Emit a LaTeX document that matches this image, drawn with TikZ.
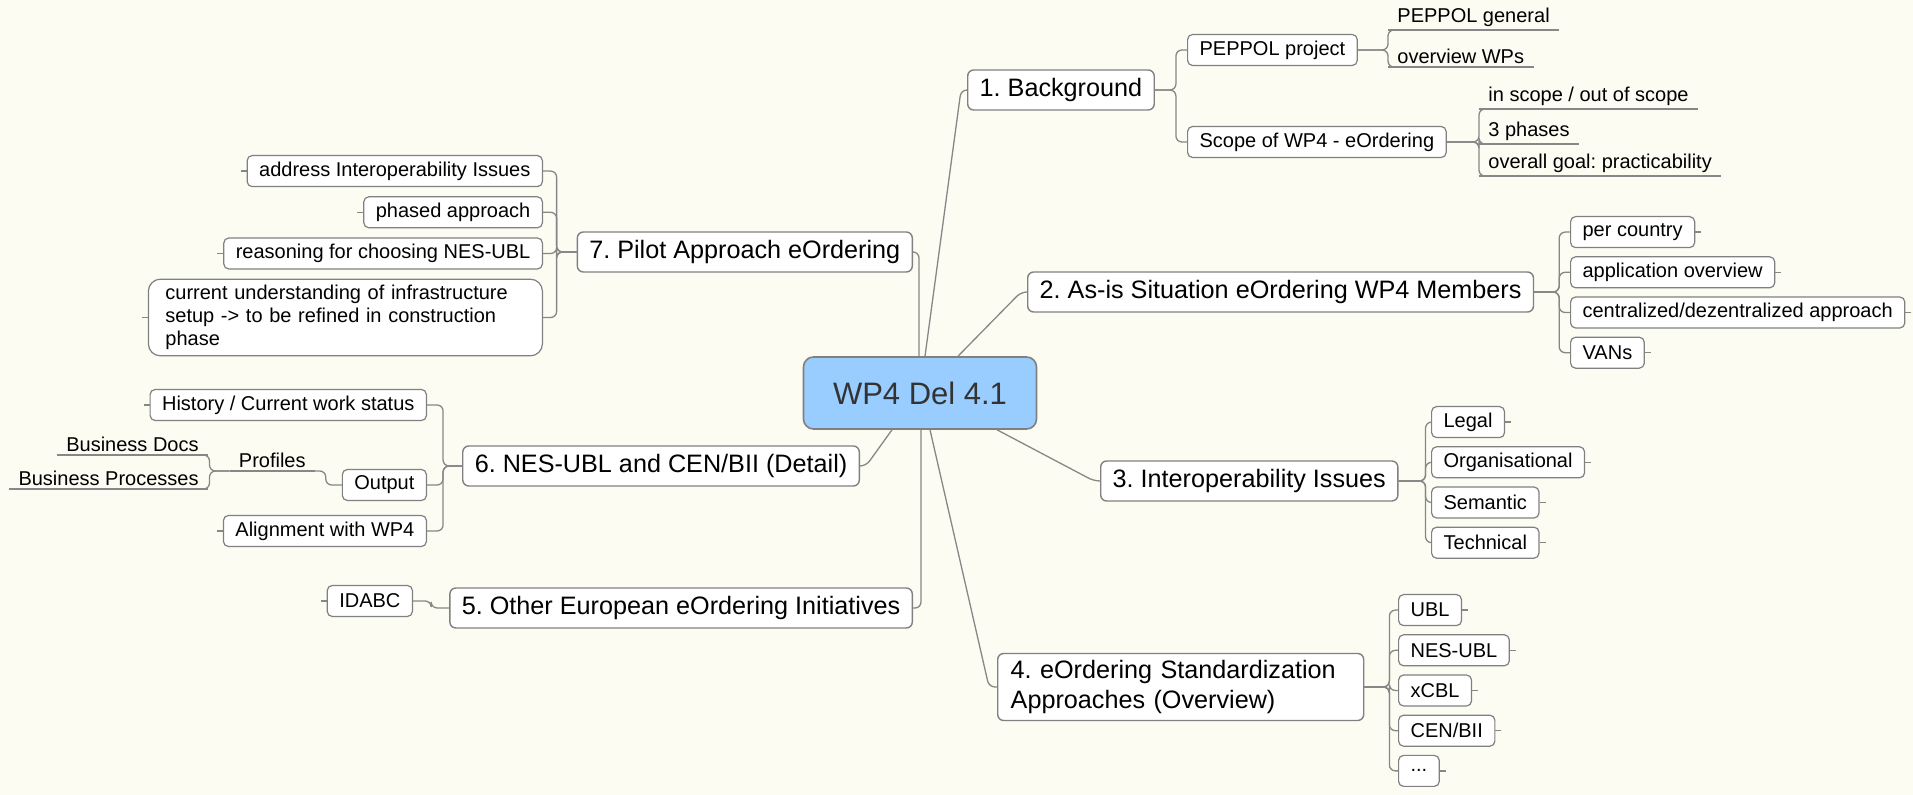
\documentclass[tikz,border=0pt]{standalone}
\usepackage{fontspec}
\setmainfont{Liberation Sans}
\usetikzlibrary{positioning}

\definecolor{bgcream}{RGB}{252,252,243}
\definecolor{rootblue}{RGB}{153,204,255}
\definecolor{boxgray}{RGB}{128,128,128}
\definecolor{linegray}{RGB}{135,135,135}

\frenchspacing

\begin{document}
\begin{tikzpicture}[x=0.5pt, y=-0.5pt,
root/.style={rectangle, rounded corners=5pt, draw=boxgray, fill=rootblue, line width=0.8pt,
    font=\fontsize{15.5}{18}\selectfont, text=black!80, minimum width=116.5pt, minimum height=36pt},
branch/.style={rectangle, rounded corners=3pt, draw=boxgray, fill=white, line width=0.7pt,
    font=\fontsize{12.6}{15}\selectfont, minimum height=20pt, inner xsep=6pt},
leaf/.style={rectangle, rounded corners=2.5pt, draw=boxgray, fill=white, line width=0.6pt,
    font=\fontsize{10}{11.5}\selectfont, minimum height=15.5pt, inner xsep=6pt, inner ysep=1pt},
leaf-right/.style={leaf, anchor=north west,
    append after command={(\tikzlastnode.east) edge [line] ([xshift=3pt]\tikzlastnode.east)}},
leaf-left/.style={leaf, anchor=north east,
    append after command={(\tikzlastnode.west) edge [line] ([xshift=-3pt]\tikzlastnode.west)}},
next-right/.style={below=4pt of #1.south west, anchor=north west},
next-left/.style={below=4.5pt of #1.south east, anchor=north east},
topic/.style={font=\fontsize{10}{11.5}\selectfont, inner xsep=4.5pt, inner ysep=1.5pt,
    append after command={(\tikzlastnode.south west) edge [line] (\tikzlastnode.south east)}},
line/.style={draw=linegray, line width=0.65pt, rounded corners=3pt}
]

\fill [bgcream] (0,0) rectangle (1913,795);
\useasboundingbox (0,0) rectangle (1913,795);

\node [root] (wp4) at (920,393) {WP4 Del 4.1};

\node [branch, anchor=west] (b1) at (967,90) {1. Background};
\node [branch, anchor=west] (b2) at (1027,292) {2. As-is Situation eOrdering WP4 Members};
\node [branch, anchor=west] (b3) at (1100,481) {3. Interoperability Issues};
\node [branch, anchor=west, align=left, text width=170pt, inner xsep=6.5pt, minimum height=33.5pt]
    (b4) at (997,687) {4. eOrdering Standardization\\Approaches (Overview)};
\node [branch, anchor=east] (b5) at (913,608) {5. Other European eOrdering Initiatives};
\node [branch, anchor=east] (b6) at (860,466) {6. NES-UBL and CEN/BII (Detail)};
\node [branch, anchor=east] (b7) at (913,252) {7. Pilot Approach eOrdering};

% 1
\node [leaf, anchor=west] (b1-peppol) at (1187,50) {PEPPOL project};
\node [leaf, anchor=west] (b1-scope) at (1187,142) {Scope of WP4 - eOrdering};
\node [topic, anchor=south west] (b1-general) at (1388,30) {PEPPOL general};
\node [topic, anchor=south west] (b1-wps) at (1388,67) {overview WPs};
\node [topic, anchor=south west] (b1-inscope) at (1479,109) {in scope / out of scope};
\node [topic, anchor=south west] (b1-phases) at (1479,144) {3 phases};
\node [topic, anchor=south west] (b1-goal) at (1479,176) {overall goal: practicability};

% 2
\node [leaf-right] (b2-country) at (1570,216) {per country};
\node [leaf-right, next-right=b2-country] (b2-apps) {application overview};
\node [leaf-right, next-right=b2-apps] (b2-central) {centralized/dezentralized approach};
\node [leaf-right, next-right=b2-central] (b2-vans) {VANs};

% 3
\node [leaf-right] (b3-legal) at (1431,406) {Legal};
\node [leaf-right, next-right=b3-legal] (b3-org) {Organisational};
\node [leaf-right, next-right=b3-org] (b3-sem) {Semantic};
\node [leaf-right, next-right=b3-sem] (b3-tech) {Technical};

% 4
\node [leaf-right] (b4-ubl) at (1398,594) {UBL};
\node [leaf-right, next-right=b4-ubl] (b4-nes) {NES-UBL};
\node [leaf-right, next-right=b4-nes] (b4-xcbl) {xCBL};
\node [leaf-right, next-right=b4-xcbl] (b4-cen) {CEN/BII};
\node [leaf-right, next-right=b4-cen] (b4-more) {...};

% 5
\node [leaf-left, anchor=east] (b5-idabc) at (413,601) {IDABC};

% 6
\node [leaf-left, anchor=east] (b6-history) at (427,405) {History / Current work status};
\node [leaf, anchor=east] (b6-output) at (427,485) {Output};
\node [leaf-left, anchor=east] (b6-align) at (427,531) {Alignment with WP4};
\node [topic, anchor=south east] (b6-profiles) at (315,471) {Profiles};
\node [topic, anchor=south east] (b6-docs) at (208,455) {Business Docs};
\node [topic, anchor=south east] (b6-procs) at (208,489) {Business Processes};

% 7
\node [leaf-left] (b7-address) at (543,155) {address Interoperability Issues};
\node [leaf-left, next-left=b7-address] (b7-phased) {phased approach};
\node [leaf-left, next-left=b7-phased] (b7-reason) {reasoning for choosing NES-UBL};
\node [leaf-left, next-left=b7-reason, align=left, text width=180pt, inner xsep=8.5pt,
    inner ysep=3pt, rounded corners=6pt] (b7-infra)
    {current understanding of infrastructure\\setup -> to be refined in construction\\phase};

% centre to branches
\path [line] ([xshift=2.5pt]wp4.north) -- ([xshift=-3pt]b1.west) -- (b1.west);
\path [line] ([xshift=19pt]wp4.north) -- ([xshift=-3pt]b2.west) -- (b2.west);
\path [line] ([xshift=38.5pt]wp4.south) -- ([xshift=-3pt]b3.west) -- (b3.west);
\path [line] ([xshift=5pt]wp4.south) -- ([xshift=-4pt]b4.west) -- (b4.west);
\path [line] ([xshift=0.5pt]wp4.south) |- (b5.east);
\path [line] ([xshift=-14pt]wp4.south) -- ([xshift=3pt]b6.east) -- (b6.east);
\path [line] ([xshift=-0.5pt]wp4.north) |- (b7.east);

% branch 1
\path [line] (b1.east) -- ++(10.5pt,0) |- (b1-peppol.west);
\path [line] (b1.east) -- ++(10.5pt,0) |- (b1-scope.west);
\path [line] (b1-peppol.east) -- (b1-peppol.east -| b1-general.south west) |- ([xshift=4pt]b1-general.south west);
\path [line] (b1-peppol.east) -- (b1-peppol.east -| b1-wps.south west) |- ([xshift=4pt]b1-wps.south west);
\path [line] (b1-scope.east) -- (b1-scope.east -| b1-inscope.south west) |- ([xshift=4pt]b1-inscope.south west);
\path [line] (b1-scope.east) -- (b1-scope.east -| b1-phases.south west) |- ([xshift=4pt]b1-phases.south west);
\path [line] (b1-scope.east) -- (b1-scope.east -| b1-goal.south west) |- ([xshift=4pt]b1-goal.south west);

% branch 2
\path [line] (b2.east) -- ++(12.5pt,0) |- (b2-country.west);
\path [line] (b2.east) -- ++(12.5pt,0) |- (b2-apps.west);
\path [line] (b2.east) -- ++(12.5pt,0) |- (b2-central.west);
\path [line] (b2.east) -- ++(12.5pt,0) |- (b2-vans.west);

% branch 3
\path [line] (b3.east) -- ++(13.5pt,0) |- (b3-legal.west);
\path [line] (b3.east) -- ++(13.5pt,0) |- (b3-org.west);
\path [line] (b3.east) -- ++(13.5pt,0) |- (b3-sem.west);
\path [line] (b3.east) -- ++(13.5pt,0) |- (b3-tech.west);

% branch 4
\path [line] (b4.east) -- ++(12.5pt,0) |- (b4-ubl.west);
\path [line] (b4.east) -- ++(12.5pt,0) |- (b4-nes.west);
\path [line] (b4.east) -- ++(12.5pt,0) |- (b4-xcbl.west);
\path [line] (b4.east) -- ++(12.5pt,0) |- (b4-cen.west);
\path [line] (b4.east) -- ++(12.5pt,0) |- (b4-more.west);

% branch 5
\path [line] (b5.west) -- ++(-9pt,0) |- (b5-idabc.east);

% branch 6
\path [line] (b6.west) -- ++(-9.5pt,0) |- (b6-history.east);
\path [line] (b6.west) -- ++(-9.5pt,0) |- (b6-output.east);
\path [line] (b6.west) -- ++(-9.5pt,0) |- (b6-align.east);
\path [line] (b6-output.west) -- ++(-8pt,0) |- (b6-profiles.south east);
\path [line] (b6-profiles.south west) -- ++(-10pt,0) |- ([xshift=-4pt]b6-docs.south east);
\path [line] (b6-profiles.south west) -- ++(-10pt,0) |- ([xshift=-4pt]b6-procs.south east);

% branch 7
\path [line] (b7.west) -- ++(-10pt,0) |- (b7-address.east);
\path [line] (b7.west) -- ++(-10pt,0) |- (b7-phased.east);
\path [line] (b7.west) -- ++(-10pt,0) |- (b7-reason.east);
\path [line] (b7.west) -- ++(-10pt,0) |- (b7-infra.east);

\end{tikzpicture}
\end{document}
